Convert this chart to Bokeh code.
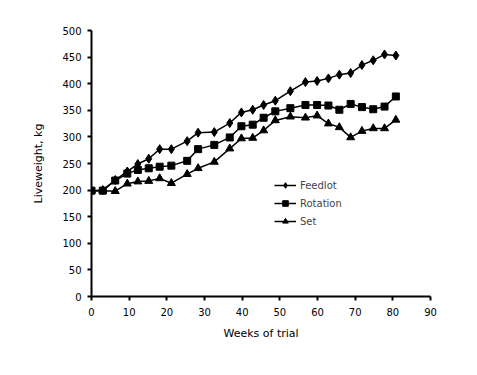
from bokeh.plotting import figure
from bokeh.embed import file_html
from bokeh.resources import INLINE
from bokeh.models import Range1d, FixedTicker, Legend, LegendItem

weeks = [0, 3, 6.3, 9.5, 12.3, 15.2, 18.1, 21.2, 25.4, 28.3, 32.6, 36.7, 39.8,
         42.8, 45.7, 48.8, 52.8, 56.8, 59.9, 62.9, 65.8, 68.8, 71.8, 74.8, 77.8, 80.8]
feedlot = [199, 200, 219, 235, 249, 259, 277, 277, 292, 308, 309, 326, 346,
           351, 360, 368, 386, 403, 405, 410, 417, 420, 435, 444, 455, 453]
rotation = [199, 199, 218, 231, 238, 241, 244, 246, 255, 277, 285, 299, 320,
            323, 336, 348, 354, 360, 360, 359, 351, 362, 356, 352, 357, 376]
set_grazing = [199, 199, 198, 212, 216, 217, 222, 213, 230, 241, 253, 278, 297,
               298, 312, 331, 338, 336, 340, 325, 318, 299, 311, 316, 316, 332]

x_ticks = [0, 10, 20, 30, 40, 50, 60, 70, 80, 90]
y_ticks = [0, 50, 100, 150, 200, 250, 300, 350, 400, 450, 500]

FONT = "DejaVu Sans"

p = figure(width=468, height=363, output_backend="svg", toolbar_location=None,
           x_range=Range1d(0, 90), y_range=Range1d(0, 500),
           min_border_left=91, min_border_right=38, min_border_top=30, min_border_bottom=67)
p.outline_line_color = None
p.xgrid.grid_line_color = None
p.ygrid.grid_line_color = None
p.background_fill_color = "white"
p.border_fill_color = "white"

for ax in (p.xaxis[0], p.yaxis[0]):
    ax.axis_line_width = 2
    ax.axis_line_color = "black"
    ax.major_tick_line_color = "black"
    ax.major_tick_line_width = 2
    ax.major_tick_in = 0
    ax.major_tick_out = 4
    ax.minor_tick_line_color = None
    ax.major_label_text_font = FONT
    ax.major_label_text_font_size = "10px"
    ax.major_label_text_color = "black"
    ax.axis_label_text_font = FONT
    ax.axis_label_text_font_size = "11px"
    ax.axis_label_text_font_style = "normal"
    ax.axis_label_text_color = "black"

p.xaxis.ticker = FixedTicker(ticks=x_ticks)
p.yaxis.ticker = FixedTicker(ticks=y_ticks)
p.xaxis.axis_label = "Weeks of trial"
p.yaxis.axis_label = "Liveweight, kg"
p.xaxis.major_label_standoff = 7
p.yaxis.major_label_standoff = 6
p.xaxis.axis_label_standoff = 8
p.yaxis.axis_label_standoff = 14

l1 = p.line(weeks, feedlot, line_color="black", line_width=1.5)
m1 = p.scatter(weeks, feedlot, marker="diamond", size=9, color="black")
l2 = p.line(weeks, rotation, line_color="black", line_width=1.5)
m2 = p.scatter(weeks, rotation, marker="square", size=7, color="black")
l3 = p.line(weeks, set_grazing, line_color="black", line_width=1.5)
m3 = p.scatter(weeks, set_grazing, marker="triangle", size=8, color="black")

legend = Legend(items=[
    LegendItem(label="Feedlot", renderers=[l1, m1]),
    LegendItem(label="Rotation", renderers=[l2, m2]),
    LegendItem(label="Set", renderers=[l3, m3]),
], location=(183, 68))
legend.border_line_color = None
legend.background_fill_alpha = 0
legend.label_text_font = FONT
legend.label_text_font_size = "10px"
legend.glyph_width = 22
legend.glyph_height = 14
legend.label_height = 14
legend.spacing = 4
legend.padding = 2
legend.margin = 0
legend.label_standoff = 4
p.add_layout(legend, "center")

open("out.html", "w").write(file_html(p, INLINE))
